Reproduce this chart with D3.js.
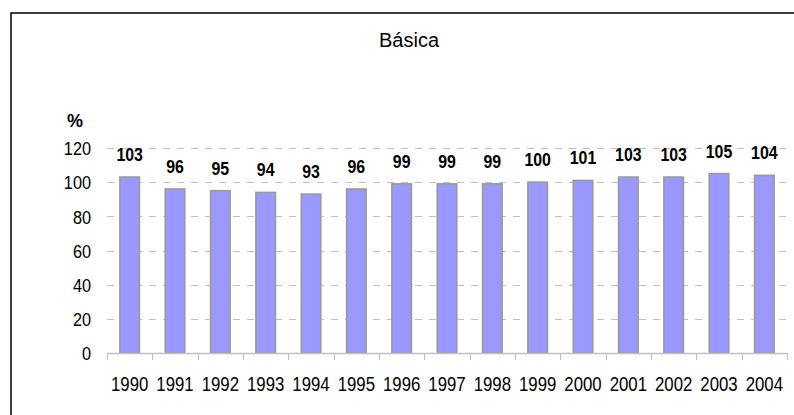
<!DOCTYPE html>
<html><head><meta charset="utf-8">
<script src="https://cdn.jsdelivr.net/npm/d3@7/dist/d3.min.js"></script>
<style>
body{margin:0;background:#fff;}
svg{display:block;}
text{font-family:"Liberation Sans",Arial,sans-serif;}
</style></head>
<body><svg id="chart" width="794" height="415"></svg>
<script>
const title = "Básica";
const unitLabel = "%";
const years = ["1990","1991","1992","1993","1994","1995","1996","1997","1998","1999","2000","2001","2002","2003","2004"];
const values = [103,96,95,94,93,96,99,99,99,100,101,103,103,105,104];
const yTicks = [0,20,40,60,80,100,120];

const svg = d3.select("#chart");
const W = 794, H = 415;
const m = {left:107, right:7, top:148, bottom:62};

svg.append("rect").attr("x",11).attr("y",13).attr("width",W+10).attr("height",H+10)
  .attr("fill","#fff").attr("stroke","#000").attr("stroke-width",1.5);

const x = d3.scaleBand().domain(years).range([m.left, W-m.right]).paddingInner(0.57).paddingOuter(0.285);
const y = d3.scaleLinear().domain([0,120]).range([H-m.bottom, m.top]);

// gridlines
svg.append("g").selectAll("line").data(yTicks.filter(d=>d>0)).join("line")
  .attr("x1",m.left).attr("x2",W-m.right)
  .attr("y1",d=>Math.round(y(d))+0.5).attr("y2",d=>Math.round(y(d))+0.5)
  .attr("stroke","#c0c0c0").attr("stroke-width",1).attr("stroke-dasharray","7,7");

// y axis labels
const yAxis = d3.axisLeft(y).tickValues(yTicks).tickSize(0).tickPadding(0);
const gy = svg.append("g").attr("transform",`translate(91,0)`).call(yAxis);
gy.select(".domain").remove();
gy.selectAll("text").attr("x",0).attr("transform",`scale(0.88,1)`)
  .style("font-family","Liberation Sans, Arial, sans-serif")
  .style("font-size","18.5px").attr("fill","#000").attr("dy","0.36em");

// bars
svg.append("g").selectAll("rect").data(values).join("rect")
  .attr("x",(d,i)=>x(years[i])).attr("width",x.bandwidth())
  .attr("y",d=>y(d)).attr("height",d=>y(0)-y(d))
  .attr("fill","#9999ff").attr("stroke","#999").attr("stroke-width",1.6);

// x axis
const boundaries = d3.range(years.length+1).map(i=>m.left + i*(W-m.right-m.left)/years.length);
const gx = svg.append("g");
gx.append("line").attr("x1",m.left).attr("x2",W-m.right)
  .attr("y1",y(0)+0.5).attr("y2",y(0)+0.5).attr("stroke","#c0c0c0").attr("stroke-width",1.5);
gx.selectAll("line.tk").data(boundaries).join("line").attr("class","tk")
  .attr("x1",d=>Math.round(d)+0.5).attr("x2",d=>Math.round(d)+0.5)
  .attr("y1",y(0)).attr("y2",y(0)+7).attr("stroke","#c0c0c0").attr("stroke-width",1);
gx.selectAll("g.yl").data(years).join("g").attr("class","yl")
  .attr("transform",d=>`translate(${x(d)+x.bandwidth()/2},391) scale(0.8,1)`)
  .append("text").attr("text-anchor","middle").style("font-size","21px").text(d=>d);

// data labels
svg.append("g").selectAll("g").data(values).join("g")
  .attr("transform",(d,i)=>`translate(${x(years[i])+x.bandwidth()/2},${y(d)-16}) scale(0.86,1)`)
  .append("text").attr("text-anchor","middle").style("font-size","18.5px").style("font-weight","bold")
  .text(d=>d);

// unit label
svg.append("text").attr("x",75).attr("y",127).attr("text-anchor","middle")
  .style("font-size","18px").style("font-weight","bold").text(unitLabel);

// title
svg.append("text").attr("x",409).attr("y",47).attr("text-anchor","middle")
  .style("font-size","20px").text(title);
</script></body></html>
